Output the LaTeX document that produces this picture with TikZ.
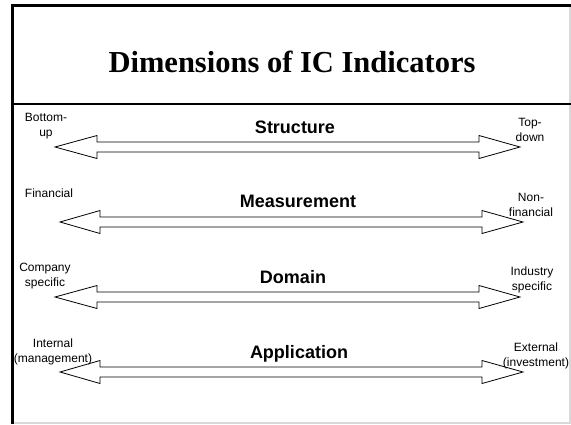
\documentclass[tikz,border=0pt]{standalone}
\usepackage{fontspec}
\setmainfont{Liberation Sans}
\newfontfamily\titlefont{Liberation Serif}
\usetikzlibrary{positioning}
\tikzset{
  side/.style={align=center,inner sep=0pt,font=\fontsize{12}{14.5}\selectfont},
  dim/.style={anchor=base,inner sep=0pt,font=\fontsize{18}{20}\selectfont\bfseries},
  shaft/.style={draw=black,line width=0.8pt,fill=white,line join=miter}
}
% double arrow: y, left tip, left base, right base, right tip
\newcommand{\icarrow}[5]{%
  \draw[shaft] (#2,#1) -- (#3,#1-11.5) -- (#3,#1-5) -- (#4,#1-5) -- (#4,#1-11.5)
    -- (#5,#1) -- (#4,#1+11.5) -- (#4,#1+5) -- (#3,#1+5) -- (#3,#1+11.5) -- cycle;}
\begin{document}
\begin{tikzpicture}[x=1pt,y=-1pt]
  \useasboundingbox (0,0) rectangle (571,424);
  % frame
  \draw[gray!30,line width=1.5pt] (570,5) -- (570,423) -- (12,423);
  \draw[line width=3pt] (12,424) -- (12,5) -- (571,5);
  \draw[line width=1.5pt] (12,104) -- (571,104);
  \node[anchor=base,inner sep=0pt,font=\fontsize{30.5}{32}\selectfont\titlefont\bfseries] (title) at (292,72) {Dimensions of IC Indicators};
  % arrows
  \icarrow{147}{55}{97}{479}{520}
  \icarrow{222}{60}{100}{482}{523}
  \icarrow{297}{55}{97}{479}{520}
  \icarrow{372}{60}{100}{482}{523}
  % dimension names
  \node[dim] (structure) at (295,133.5) {Structure};
  \node[dim] (measurement) at (298,207.5) {Measurement};
  \node[dim] (domain) at (293,283.5) {Domain};
  \node[dim] (application) at (299,358.5) {Application};
  % end labels
  \node[side] (bottomup) at (46,126) {Bottom-\\up};
  \node[side] (topdown) at (530,130) {Top-\\down};
  \node[side] (financial) at (49,193) {Financial};
  \node[side] (nonfin) at (531,205) {Non-\\financial};
  \node[side] (company) at (45,276) {Company\\specific};
  \node[side] (industry) at (532,280) {Industry\\specific};
  \node[side] (internal) at (53,352) {Internal\\(management)};
  \node[side] (external) at (536,356) {External\\(investment)};
\end{tikzpicture}
\end{document}
